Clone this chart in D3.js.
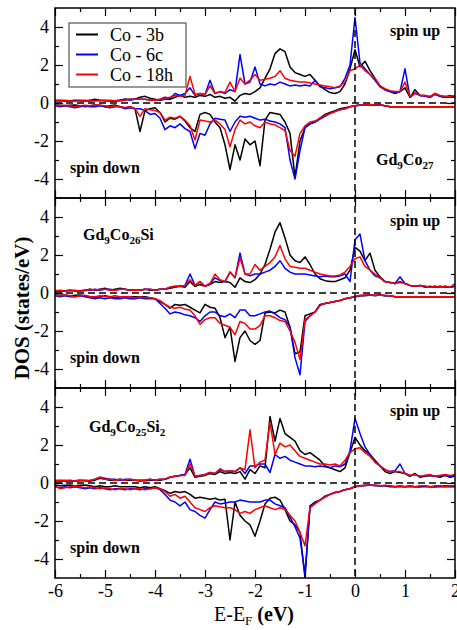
<!DOCTYPE html>
<html>
<head>
<meta charset="utf-8">
<script src="https://cdn.jsdelivr.net/npm/d3@7"></script>
<style>
  body { margin: 0; background: #fff; }
  text { font-family: "Liberation Serif", "Times New Roman", serif; }
</style>
</head>
<body>
<svg id="dos" width="457" height="630"></svg>
<script>
// energy grid (eV), -6 .. 2 in 0.1 steps
let energy = d3.range(81).map(i => Math.round((-6 + i * 0.1) * 10) / 10);

let seriesNames = ['Co - 3b', 'Co - 6c', 'Co - 18h'];
let xTicks = [-6, -5, -4, -3, -2, -1, 0, 1, 2];
let yTicks = [-4, -2, 0, 2, 4];

// ---- Gd9Co27 ----
let up1_3b = [.15,.12,.1,.12,.15,.12,.1,.15,.2,.15, .12,.1,.12,.15,.2,.2,.2,.3,.35,.25,
  .2,.15,.2,.2,.3,.4,.3,.35,.3,.4, .35,.45,.3,.35,.25,.3,.1,.4,.5,.45,
  .6,.8,1.3,1.8,2.6,2.85,2.7,1.9,1.6,1.5, 1.4,1.5,1.2,.9,.7,.55,.5,.6,1.0,1.8,
  2.8,1.9,2.2,1.7,1.3,.9,.7,.6,.5,.6, .8,.3,.7,.4,.4,.3,.5,.35,.3,.4, .3];
let up1_6c = [.12,.15,.12,.1,.12,.15,.12,.1,.15,.12, .15,.12,.1,.15,.2,.15,.2,.2,.2,.15,
  .15,.2,.3,.25,.5,.4,.5,.8,.4,.5, .45,1.2,.5,.6,.5,.7,.6,2.55,1.0,1.1,
  1.9,1.0,.9,1.0,.95,1.1,1.0,.9,.95,.9, .95,.9,1.2,.85,.8,.75,.8,.85,1.3,2.0,
  4.5,2.1,1.8,1.5,1.2,.85,.7,.6,.55,.6, 1.8,.3,.5,.4,.35,.3,.45,.35,.3,.3, .3];
let up1_18h = [.1,.12,.15,.12,.1,.12,.15,.12,.1,.15, .12,.15,.12,.1,.15,.2,.2,.2,.2,.15,
  .15,.2,.25,.3,.4,.35,.4,1.4,.45,.5, .45,.9,.5,.6,.55,1.1,.6,1.3,1.0,1.2,
  1.5,1.2,1.25,1.3,1.4,1.7,1.3,1.2,1.15,1.1, 1.1,1.05,1.0,.95,.9,.85,.8,.9,1.1,1.7,
  1.8,2.0,1.7,1.5,1.3,.9,.75,.65,.6,.6, 1.1,.35,.55,.4,.4,.35,.5,.4,.35,.35, .4];
let dn1_3b = [-.1,-.12,-.15,-.12,-.1,-.15,-.2,-.15,-.1,-.12, -.2,-.15,-.1,-.2,-.25,-.2,-.3,-1.5,-.4,-.3,
  -.25,-.5,-1.0,-.8,-.85,-.7,-.95,-1.3,-1.5,-.6, -.5,-.6,-1.0,-1.3,-2.2,-3.5,-2.2,-3.0,-1.9,-2.2,
  -2.0,-3.3,-.9,-.5,-.55,-.6,-1.0,-1.6,-3.9,-2.0, -1.3,-1.1,-1.0,-.8,-.6,-.5,-.4,-.3,-.25,-.2,
  -.15,-.1,-.1,-.08,-.1,-.08,-.15,-.2,-.2,-.2, -.2,-.2,-.2,-.2,-.2,-.2,-.2,-.2,-.2,-.2, -.2];
let dn1_6c = [-.15,-.2,-.15,-.2,-.25,-.2,-.15,-.2,-.2,-.15, -.2,-.25,-.2,-.2,-.3,-.25,-.3,-.3,-.4,-.6,
  -.55,-.8,-1.4,-1.2,-1.3,-1.1,-1.35,-1.5,-2.4,-1.6, -1.7,-1.1,-.8,-.85,-.9,-1.5,-1.0,-.7,-.75,-.7,
  -.8,-.9,-.85,-.95,-1.0,-1.1,-1.3,-3.0,-4.0,-2.5, -1.3,-1.1,-1.0,-.85,-.7,-.55,-.45,-.35,-.3,-.2,
  -.15,-.12,-.1,-.1,-.12,-.1,-.15,-.2,-.2,-.2, -.2,-.2,-.2,-.2,-.2,-.2,-.2,-.2,-.2,-.2, -.2];
let dn1_18h = [-.12,-.15,-.12,-.15,-.2,-.15,-.12,-.15,-.1,-.12, -.15,-.2,-.15,-.2,-.25,-.2,-.3,-.7,-.3,-.35,
  -.4,-.5,-.9,-.75,-.8,-.7,-.9,-1.2,-1.95,-.9, -.95,-1.0,-.9,-1.1,-1.4,-2.3,-1.4,-.9,-1.1,-1.0,
  -1.2,-1.3,-1.0,-1.1,-1.15,-1.3,-1.45,-2.5,-2.8,-1.6, -1.2,-1.0,-.95,-.8,-.65,-.55,-.45,-.35,-.3,-.2,
  -.15,-.1,-.1,-.08,-.1,-.1,-.15,-.2,-.2,-.2, -.2,-.2,-.2,-.2,-.2,-.2,-.2,-.2,-.2,-.2, -.2];

// ---- Gd9Co26Si ----
let up2_3b = [.1,.12,.1,.15,.12,.1,.15,.2,.15,.2, .25,.15,.2,.25,.2,.15,.15,.15,.2,.15,
  .15,.2,.2,.25,.3,.35,.3,.6,.35,.45, .35,.45,.6,.55,.6,.55,.3,.8,.6,.55,
  .7,1.0,1.5,2.3,3.2,3.7,2.9,2.0,1.7,1.6, 1.9,1.5,1.0,.75,.65,.6,.6,.7,.8,1.2,
  2.4,2.2,1.7,2.1,1.2,.85,.6,.55,.5,.6, .5,.4,.35,.4,.3,.35,.3,.35,.3,.3, .35];
let up2_6c = [.12,.1,.12,.15,.1,.12,.15,.15,.2,.15, .2,.2,.15,.2,.2,.15,.15,.15,.2,.2,
  .15,.2,.2,.3,.35,.35,.4,1.0,.4,.6, .35,.5,.8,.65,.6,1.1,.8,2.1,1.0,.9,
  1.0,1.0,1.1,1.2,1.4,1.7,1.3,1.1,1.0,1.0, 1.0,.95,.9,.85,.9,.85,.85,.9,1.0,.6,
  2.8,3.1,1.7,1.2,.9,.8,.6,.55,.5,.85, .5,.4,.35,.4,.35,.3,.35,.3,.35,.3, .35];
let up2_18h = [.12,.15,.1,.12,.15,.1,.12,.2,.15,.2, .2,.15,.15,.2,.2,.15,.15,.15,.2,.2,
  .15,.2,.2,.3,.35,.35,.4,.7,.4,.6, .35,.5,1.0,.7,.6,1.1,.8,1.85,1.0,1.0,
  1.5,1.2,1.4,1.6,1.9,2.5,1.8,1.4,1.35,1.3, 1.3,1.2,1.1,1.0,.95,.9,.9,.95,1.1,1.4,
  1.8,1.9,1.4,1.2,1.0,.8,.6,.55,.5,.55, .5,.4,.35,.4,.35,.3,.35,.3,.35,.3, .5];
let dn2_3b = [-.1,-.12,-.1,-.15,-.12,-.1,-.15,-.2,-.25,-.2, -.15,-.2,-.25,-.2,-.2,-.2,-.2,-.2,-.2,-.25,
  -.3,-.45,-.6,-.8,-.6,-.65,-.6,-.75,-.9,-1.05, -.6,-.75,-.8,-1.3,-2.35,-1.8,-3.6,-2.35,-2.0,-2.5,
  -2.7,-2.5,-1.05,-1.0,-1.05,-.9,-1.0,-1.8,-3.2,-3.1, -1.2,-1.1,-1.0,-.6,-.55,-.5,-.45,-.4,-.3,-.25,
  -.2,-.15,-.15,-.1,-.15,-.1,-.15,-.15,-.2,-.2, -.2,-.2,-.2,-.2,-.2,-.2,-.2,-.2,-.2,-.2, -.2];
let dn2_6c = [-.15,-.2,-.15,-.2,-.2,-.15,-.2,-.25,-.3,-.25, -.3,-.25,-.3,-.3,-.25,-.3,-.3,-.25,-.3,-.3,
  -.3,-.55,-.8,-1.1,-1.0,-1.05,-1.15,-1.2,-1.3,-1.5, -1.2,-1.0,-1.0,-1.2,-1.25,-1.1,-1.3,-.9,-.9,-1.2,
  -1.2,-1.1,-1.0,-.95,-1.1,-1.3,-1.4,-1.8,-3.4,-4.3, -1.5,-1.2,-1.0,-.65,-.55,-.5,-.45,-.4,-.3,-.25,
  -.2,-.15,-.12,-.1,-.12,-.1,-.15,-.15,-.2,-.2, -.2,-.2,-.2,-.2,-.2,-.2,-.2,-.2,-.2,-.2, -.2];
let dn2_18h = [-.12,-.15,-.12,-.15,-.2,-.15,-.12,-.2,-.2,-.15, -.2,-.2,-.15,-.2,-.2,-.2,-.25,-.2,-.25,-.25,
  -.3,-.4,-.6,-.75,-.8,-.75,-.85,-.9,-1.2,-1.65, -1.4,-1.3,-1.3,-1.6,-1.7,-1.8,-2.2,-1.5,-1.6,-1.9,
  -1.9,-1.7,-1.2,-1.2,-1.3,-1.45,-1.5,-2.0,-2.6,-3.5, -1.4,-1.2,-1.0,-.65,-.55,-.5,-.45,-.4,-.3,-.25,
  -.2,-.12,-.1,-.1,-.12,-.1,-.12,-.15,-.2,-.2, -.2,-.2,-.2,-.2,-.2,-.2,-.2,-.2,-.2,-.2, -.2];

// ---- Gd9Co25Si2 ----
let up3_3b = [.1,.12,.1,.1,.12,.15,.12,.1,.15,.25, .2,.15,.15,.2,.15,.15,.15,.1,.12,.15,
  .15,.15,.2,.3,.35,.4,.45,.8,.3,.35, .4,.5,.45,.6,.5,.55,.5,.6,.2,.7,
  .5,.9,.8,3.5,2.2,3.4,2.6,2.4,2.2,1.7, 1.5,1.6,1.4,1.2,.9,.8,.7,.6,.8,1.6,
  2.4,2.0,1.7,1.5,1.2,.9,.6,.5,.6,.55, .5,.35,.5,.3,.35,.4,.35,.3,.4,.3, .35];
let up3_6c = [.12,.15,.12,.15,.1,.12,.15,.12,.2,.3, .25,.2,.2,.15,.2,.2,.15,.15,.15,.2,
  .15,.2,.2,.3,.35,.4,.45,1.25,.35,.4, .45,.55,.5,.7,.6,.65,.6,.8,.5,.9,
  .9,1.0,1.0,.55,1.5,1.3,1.4,1.2,1.1,1.0, .9,.9,.85,.9,.85,.8,.9,.85,1.0,1.7,
  3.4,2.6,1.9,1.5,1.1,.9,.7,.6,.65,1.0, .5,.4,.45,.35,.4,.4,.35,.4,.4,.35, .4];
let up3_18h = [.15,.12,.15,.1,.12,.15,.12,.15,.2,.3, .2,.2,.15,.2,.15,.2,.15,.15,.15,.2,
  .15,.2,.2,.3,.35,.4,.4,1.0,.35,.4, .45,.55,.5,.75,.6,.65,.6,.8,.7,2.8,
  .8,1.1,1.2,3.2,1.5,2.1,1.9,2.0,1.7,1.4, 1.3,1.2,1.1,1.0,1.0,.95,1.0,.9,1.2,1.6,
  1.8,1.85,1.6,1.4,1.1,.9,.7,.6,.6,.6, .5,.4,.45,.35,.4,.45,.35,.4,.45,.4, .45];
let dn3_3b = [-.1,-.15,-.12,-.1,-.15,-.12,-.1,-.15,-.2,-.15, -.2,-.2,-.15,-.2,-.2,-.2,-.2,-.25,-.2,-.25,
  -.2,-.3,-.4,-.55,-.45,-.5,-.45,-.6,-.8,-.75, -.8,-.85,-.8,-.9,-.85,-3.0,-1.0,-1.7,-2.0,-2.2,
  -2.8,-2.0,-1.1,-.8,-.75,-.9,-1.4,-2.0,-2.2,-2.6, -5.0,-1.2,-1.0,-.9,-.7,-.6,-.5,-.45,-.35,-.3,
  -.2,-.15,-.15,-.1,-.15,-.15,-.15,-.2,-.2,-.2, -.2,-.2,-.2,-.2,-.2,-.2,-.2,-.2,-.2,-.2, -.2];
let dn3_6c = [-.2,-.25,-.2,-.25,-.2,-.25,-.3,-.25,-.3,-.25, -.3,-.35,-.3,-.3,-.35,-.3,-.3,-.35,-.3,-.3,
  -.25,-.35,-.6,-.9,-1.0,-1.2,-1.0,-1.4,-1.5,-1.7, -1.85,-1.4,-1.0,-1.1,-1.05,-1.0,-1.0,-.9,-.95,-1.0,
  -1.0,-1.0,-.9,-.9,-1.1,-1.2,-1.3,-1.8,-2.3,-2.9, -4.8,-1.3,-1.05,-.9,-.7,-.6,-.5,-.45,-.35,-.3,
  -.2,-.15,-.12,-.1,-.12,-.15,-.15,-.15,-.2,-.15, -.2,-.15,-.2,-.2,-.15,-.2,-.2,-.15,-.15,-.15, -.15];
let dn3_18h = [-.15,-.3,-.25,-.2,-.15,-.2,-.25,-.2,-.25,-.3, -.25,-.3,-.35,-.3,-.3,-.35,-.3,-.3,-.35,-.3,
  -.25,-.3,-.45,-.7,-.6,-.8,-.7,-1.0,-1.3,-1.4, -1.5,-1.3,-1.2,-1.25,-1.3,-1.3,-1.4,-1.6,-1.5,-1.6,
  -1.4,-1.3,-1.2,-1.3,-1.4,-1.3,-1.4,-1.7,-2.0,-2.6, -3.3,-1.3,-1.1,-.9,-.75,-.6,-.5,-.45,-.35,-.3,
  -.2,-.15,-.12,-.1,-.12,-.15,-.12,-.15,-.2,-.15, -.2,-.15,-.2,-.15,-.15,-.2,-.15,-.15,-.2,-.15, -.15];

// compound names as [text, isSubscript]
let compound1 = [['Gd', 0], ['9', 1], ['Co', 0], ['27', 1]];
let compound2 = [['Gd', 0], ['9', 1], ['Co', 0], ['26', 1], ['Si', 0]];
let compound3 = [['Gd', 0], ['9', 1], ['Co', 0], ['25', 1], ['Si', 0], ['2', 1]];

let panels = [
  {name: compound1, up: [up1_3b, up1_6c, up1_18h], down: [dn1_3b, dn1_6c, dn1_18h]},
  {name: compound2, up: [up2_3b, up2_6c, up2_18h], down: [dn2_3b, dn2_6c, dn2_18h]},
  {name: compound3, up: [up3_3b, up3_6c, up3_18h], down: [dn3_3b, dn3_6c, dn3_18h]}
];

let colors = ['#000000', '#0000ff', '#ff0000'];
let left = 55, right = 455, top0 = 8, ph = 190;
let nameSpots = [{x: 376, y: 165}, {x: 83, y: 240 - 198}, {x: 89, y: 432 - 388}];

let svg = d3.select('#dos');
let x = d3.scaleLinear().domain([-6, 2]).range([left, right]);
let minorX = d3.range(-5.5, 2, 1);

function addName(g, parts, px, py) {
  let t = g.append('text').attr('x', px).attr('y', py)
    .attr('font-size', 16).attr('font-weight', 'bold');
  let shifted = false;
  parts.forEach(p => {
    let ts = t.append('tspan').text(p[0]);
    if (p[1]) { ts.attr('font-size', 11).attr('dy', shifted ? 0 : 4); shifted = true; }
    else { ts.attr('dy', shifted ? -4 : 0); shifted = false; }
  });
}

panels.forEach((p, k) => {
  let top = top0 + k * ph;
  let y = d3.scaleLinear().domain([-5, 5]).range([top + ph, top]);
  let g = svg.append('g');

  g.append('clipPath').attr('id', 'clip' + k)
    .append('rect').attr('x', left).attr('y', top).attr('width', right - left).attr('height', ph);

  g.append('line')
    .attr('x1', left).attr('x2', right).attr('y1', y(0)).attr('y2', y(0))
    .attr('stroke', '#000').attr('stroke-width', 1.5).attr('stroke-dasharray', '7,4');

  let line = d3.line().x((d, i) => x(energy[i])).y(d => y(d));
  let curves = g.append('g').attr('clip-path', 'url(#clip' + k + ')');
  [0, 1, 2].forEach(j => {
    [p.up[j], p.down[j]].forEach(s => {
      curves.append('path').datum(s).attr('d', line)
        .attr('fill', 'none').attr('stroke', colors[j])
        .attr('stroke-width', 1.5).attr('stroke-linejoin', 'round');
    });
  });

  // inward ticks on all four sides
  let axes = [
    [d3.axisLeft(y).tickValues(yTicks).tickSize(-8).tickPadding(6).tickFormat(d => String(d)), left, 0],
    [d3.axisLeft(y).tickValues([-3, -1, 1, 3]).tickSize(-4).tickFormat(''), left, 0],
    [d3.axisRight(y).tickValues(yTicks).tickSize(-8).tickFormat(''), right, 0],
    [d3.axisRight(y).tickValues([-3, -1, 1, 3]).tickSize(-4).tickFormat(''), right, 0],
    [d3.axisTop(x).tickValues(xTicks).tickSize(-8).tickFormat(''), 0, top],
    [d3.axisTop(x).tickValues(minorX).tickSize(-4).tickFormat(''), 0, top],
    [d3.axisBottom(x).tickValues(xTicks).tickSize(-8).tickPadding(6)
      .tickFormat(k === 2 ? (d => String(d)) : ''), 0, top + ph],
    [d3.axisBottom(x).tickValues(minorX).tickSize(-4).tickFormat(''), 0, top + ph]
  ];
  axes.forEach(a => {
    let ag = g.append('g').attr('transform', 'translate(' + a[1] + ',' + a[2] + ')').call(a[0]);
    ag.select('.domain').remove();
    ag.selectAll('line').attr('stroke', '#000').attr('stroke-width', 1.2);
    ag.selectAll('text').attr('font-family', '"Liberation Serif", serif')
      .attr('font-size', 18).attr('fill', '#000');
  });

  g.append('rect').attr('x', left).attr('y', top).attr('width', right - left).attr('height', ph)
    .attr('fill', 'none').attr('stroke', '#000').attr('stroke-width', 1.5);

  g.append('text').attr('x', 390).attr('y', top + 28)
    .attr('font-size', 16).attr('font-weight', 'bold').text('spin up');
  g.append('text').attr('x', 70).attr('y', top + 165)
    .attr('font-size', 16).attr('font-weight', 'bold').text('spin down');
  addName(g, p.name, nameSpots[k].x, k === 0 ? nameSpots[k].y : top + nameSpots[k].y);
});

// vertical dashed line at the Fermi level through all panels
svg.append('line')
  .attr('x1', x(0)).attr('x2', x(0)).attr('y1', top0).attr('y2', top0 + 3 * ph)
  .attr('stroke', '#000').attr('stroke-width', 1.5).attr('stroke-dasharray', '7,4');

// legend
let leg = svg.append('g');
leg.append('rect').attr('x', 69).attr('y', 23).attr('width', 117).attr('height', 64)
  .attr('fill', '#fff').attr('stroke', '#555').attr('stroke-width', 1.2);
seriesNames.forEach((n, i) => {
  let ly = 34.5 + i * 20;
  leg.append('line').attr('x1', 76).attr('x2', 98).attr('y1', ly).attr('y2', ly)
    .attr('stroke', colors[i]).attr('stroke-width', 2);
  leg.append('text').attr('x', 110).attr('y', ly + 6).attr('font-size', 18).text(n);
});

// axis titles
let xt = svg.append('text').attr('x', 254).attr('y', 621).attr('text-anchor', 'middle')
  .attr('font-size', 20);
xt.append('tspan').text('E-E');
xt.append('tspan').attr('font-size', 13).attr('dy', 4).text('F');
xt.append('tspan').attr('dy', -4).attr('font-weight', 'bold').text(' (eV)');

svg.append('text').attr('transform', 'translate(29,308) rotate(-90)')
  .attr('text-anchor', 'middle').attr('font-size', 21).attr('font-weight', 'bold')
  .text('DOS (states/eV)');
</script>
</body>
</html>
